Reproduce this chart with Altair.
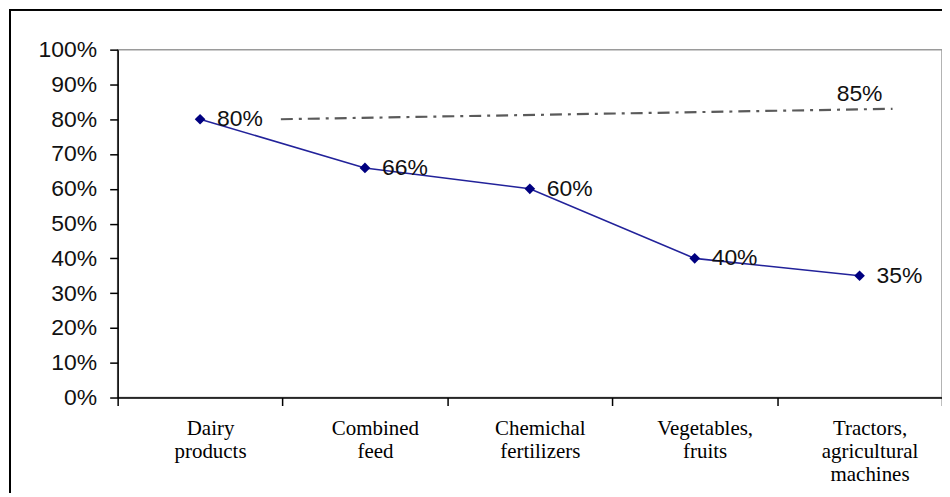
import altair as alt
import pandas as pd

categories = ["Dairy products", "Combined feed", "Chemichal fertilizers",
              "Vegetables, fruits", "Tractors, agricultural machines"]
values = [0.80, 0.66, 0.60, 0.40, 0.35]
labels = ["80%", "66%", "60%", "40%", "35%"]

# dash-dot reference line (position in category units, value)
dash_x = [0.49, 4.2]
dash_y = [0.80, 0.83]
dash_label = "85%"
dash_label_x = 4.0
dash_label_y = 0.83

df = pd.DataFrame({"cat": categories, "val": values, "lab": labels})
dash_df = pd.DataFrame({"pos": dash_x, "val": dash_y})
dash_lab_df = pd.DataFrame({"pos": [dash_label_x], "val": [dash_label_y], "lab": [dash_label]})

W, H = 827, 349
SANS = "Liberation Sans"
SERIF = "Liberation Serif"

xcat = alt.X("cat:N", sort=categories,
             scale=alt.Scale(paddingInner=0, paddingOuter=0),
             axis=alt.Axis(title=None, labelAngle=0, tickBand="extent",
                           labelExpr="split(datum.label, ' ')",
                           labelFont=SERIF, labelFontSize=21, labelColor="black",
                           labelLineHeight=23, labelPadding=12, labelOffset=10,
                           tickSize=8, tickColor="black", domainColor="black",
                           domainWidth=1.5, tickWidth=1.5, labelBaseline="top"))
yaxis = alt.Axis(title=None, format=".0%", values=[i / 10 for i in range(11)],
                 labelFont=SANS, labelFontSize=23, labelColor="#111111",
                 labelPadding=13, tickSize=8, tickColor="black",
                 domainColor="black", domainWidth=1.5, tickWidth=1.5,
                 grid=False)
yval = alt.Y("val:Q", scale=alt.Scale(domain=[0, 1], nice=False), axis=yaxis)

base = alt.Chart(df)
line = base.mark_line(color="#22229a", strokeWidth=1.6).encode(x=xcat, y=yval)
pts = base.mark_point(shape="diamond", filled=True, size=115, color="#000080",
                      opacity=1).encode(x=xcat, y=yval)
txt = base.mark_text(align="left", baseline="middle", dx=17, font=SANS,
                     fontSize=23, color="#111111").encode(x=xcat, y=yval, text="lab:N")
frame = base.mark_rect(fill=None, stroke="black", strokeWidth=1.5).encode(
    x=alt.value(-108), x2=alt.value(W + 20), y=alt.value(-40), y2=alt.value(H + 120))

main = alt.layer(line, pts, txt, frame)

xq = alt.X("pos:Q", scale=alt.Scale(domain=[-0.5, 4.5], nice=False, zero=False), axis=None)
dash = alt.Chart(dash_df).mark_line(color="#5a5a5a", strokeWidth=2.2,
                                    strokeDash=[12, 6, 3, 6]).encode(x=xq, y=yval)
dash_txt = alt.Chart(dash_lab_df).mark_text(align="center", baseline="bottom", dy=-3,
                                            font=SANS, fontSize=23, color="#111111").encode(
    x=xq, y=yval, text="lab:N")
dash_group = alt.layer(dash, dash_txt)

chart = alt.layer(main, dash_group).resolve_scale(
    x="independent"
).properties(
    width=W, height=H,
    autosize=alt.AutoSizeParams(type="none"),
    padding={"left": 110, "top": 41, "right": 0, "bottom": 95},
    background="white",
).configure_view(stroke="#9a9a9a", strokeWidth=1.5)

chart.save("out.html", embed_options={"renderer": "svg", "actions": False})
